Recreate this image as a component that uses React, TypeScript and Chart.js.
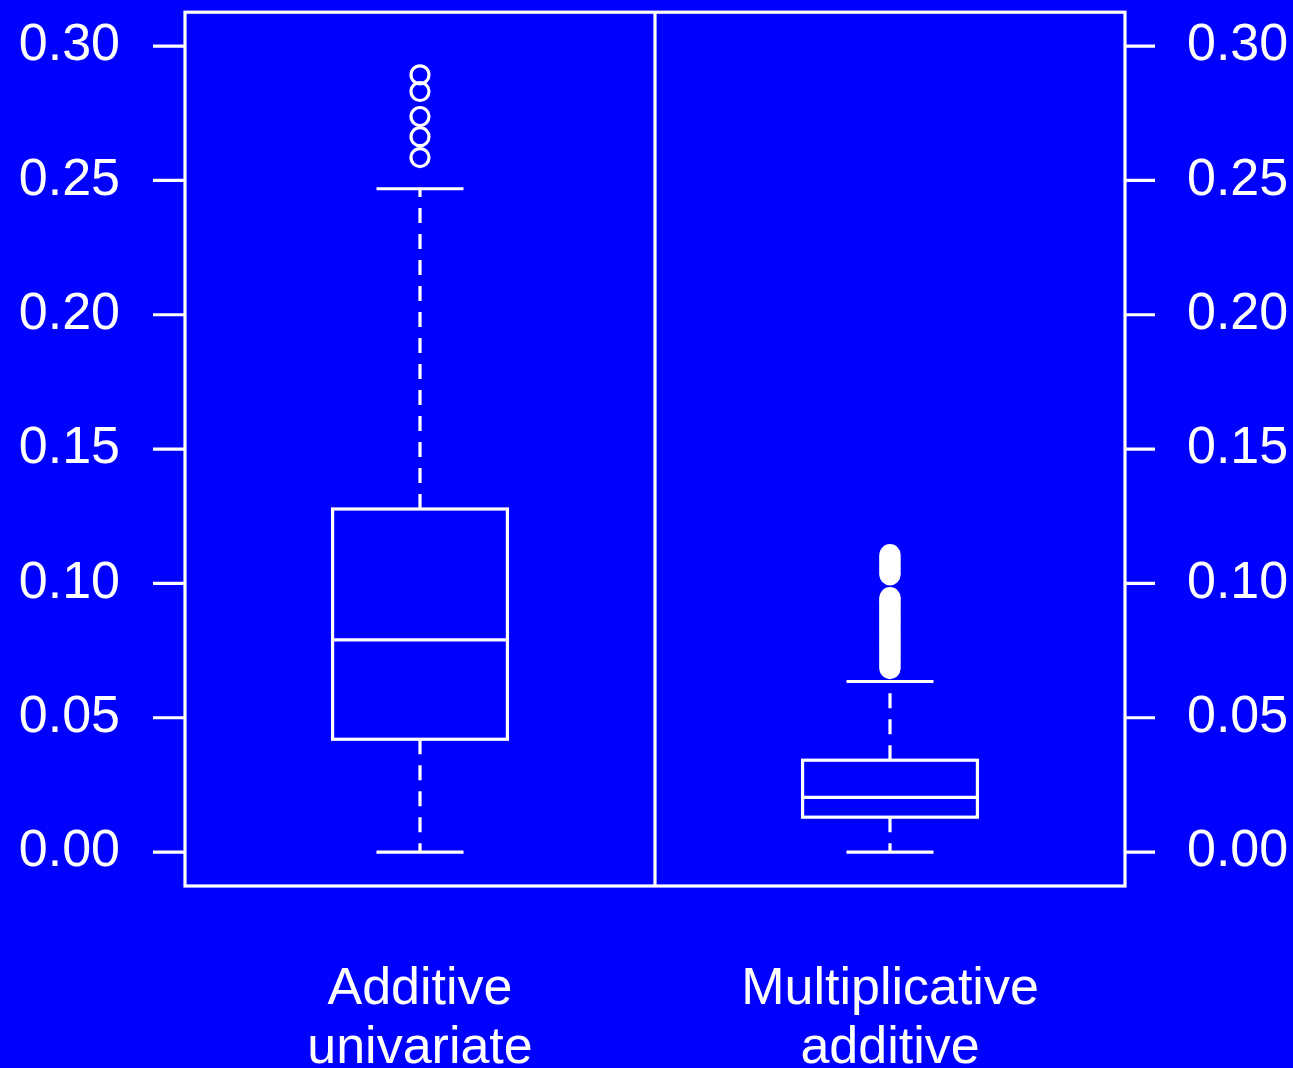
import React, { useEffect, useRef } from "react";
import { Chart, registerables } from "chart.js";

Chart.register(...registerables);

// ---- data ----
const categories: string[][] = [
  ["Additive", "univariate"],
  ["Multiplicative", "additive"],
];
const whiskerLow = [0.0, 0.0];
const q1 = [0.042, 0.013];
const median = [0.079, 0.0204];
const q3 = [0.1277, 0.0342];
const whiskerHigh = [0.2469, 0.0635];
const outliersAdditive = [0.2893, 0.2831, 0.2738, 0.2663, 0.2585];
const outliersMultiplicative = [
  0.0683, 0.0689, 0.0697, 0.0704, 0.0712, 0.0718, 0.0727, 0.0735, 0.0741,
  0.0749, 0.0758, 0.0764, 0.0771, 0.0779, 0.0787, 0.0793, 0.0802, 0.0808,
  0.0817, 0.0823, 0.0832, 0.0838, 0.0846, 0.0854, 0.0861, 0.0869, 0.0875,
  0.0884, 0.0891, 0.0897, 0.0906, 0.0913, 0.0922, 0.0928, 0.0935, 0.0942,
  0.0947, 0.1032, 0.1039, 0.1047, 0.1056, 0.1062, 0.1071, 0.1077, 0.1086,
  0.1093, 0.1099, 0.1107,
];
const yTicks = [0, 0.05, 0.1, 0.15, 0.2, 0.25, 0.3];
const yTickLabels = ["0.00", "0.05", "0.10", "0.15", "0.20", "0.25", "0.30"];

const BG = "#0000FF";
const FG = "#FFFFFF";
const FONT = "52px 'Liberation Sans', 'DejaVu Sans', sans-serif";
const LW = 3.2;

const boxPlugin = {
  id: "rBoxes",
  beforeDraw(chart: any) {
    const ctx = chart.ctx;
    ctx.save();
    ctx.fillStyle = BG;
    ctx.fillRect(0, 0, chart.width, chart.height);
    ctx.restore();
  },
  beforeDatasetsDraw(chart: any) {
    const ctx = chart.ctx;
    const xs = chart.scales.x;
    const ys = chart.scales.y;
    ctx.save();
    ctx.strokeStyle = FG;
    ctx.lineWidth = LW;
    categories.forEach((_, i) => {
      const c = i + 0.5;
      const cx = xs.getPixelForValue(c);
      const bl = xs.getPixelForValue(c - 0.186);
      const br = xs.getPixelForValue(c + 0.186);
      const cl = xs.getPixelForValue(c - 0.0926);
      const cr = xs.getPixelForValue(c + 0.0926);
      const yq1 = ys.getPixelForValue(q1[i]);
      const yq3 = ys.getPixelForValue(q3[i]);
      const ymed = ys.getPixelForValue(median[i]);
      const ylo = ys.getPixelForValue(whiskerLow[i]);
      const yhi = ys.getPixelForValue(whiskerHigh[i]);
      // whiskers dashed
      ctx.setLineDash([15, 11]);
      ctx.beginPath();
      ctx.moveTo(cx, yq3);
      ctx.lineTo(cx, yhi);
      ctx.moveTo(cx, yq1);
      ctx.lineTo(cx, ylo);
      ctx.stroke();
      ctx.setLineDash([]);
      // caps
      ctx.beginPath();
      ctx.moveTo(cl, yhi);
      ctx.lineTo(cr, yhi);
      ctx.moveTo(cl, ylo);
      ctx.lineTo(cr, ylo);
      ctx.stroke();
      // box
      ctx.fillStyle = BG;
      ctx.fillRect(bl, yq3, br - bl, yq1 - yq3);
      ctx.strokeRect(bl, yq3, br - bl, yq1 - yq3);
      ctx.beginPath();
      ctx.moveTo(bl, ymed);
      ctx.lineTo(br, ymed);
      ctx.stroke();
    });
    ctx.restore();
  },
  afterDraw(chart: any) {
    const ctx = chart.ctx;
    const xs = chart.scales.x;
    const ys = chart.scales.y;
    const a = chart.chartArea;
    ctx.save();
    ctx.strokeStyle = FG;
    ctx.fillStyle = FG;
    ctx.lineWidth = LW;
    // frame
    ctx.strokeRect(a.left, a.top, a.right - a.left, a.bottom - a.top);
    // divider
    const dx = xs.getPixelForValue(1);
    ctx.beginPath();
    ctx.moveTo(dx, a.top);
    ctx.lineTo(dx, a.bottom);
    ctx.stroke();
    // ticks
    ctx.font = FONT;
    ctx.textBaseline = "middle";
    yTicks.forEach((v, i) => {
      const y = ys.getPixelForValue(v);
      ctx.beginPath();
      ctx.moveTo(a.left - 32, y);
      ctx.lineTo(a.left, y);
      ctx.moveTo(a.right, y);
      ctx.lineTo(a.right + 30, y);
      ctx.stroke();
      ctx.textAlign = "right";
      ctx.fillText(yTickLabels[i], a.left - 65, y);
      ctx.textAlign = "left";
      ctx.fillText(yTickLabels[i], a.right + 62, y);
    });
    // category labels
    ctx.textAlign = "center";
    ctx.textBaseline = "alphabetic";
    categories.forEach((lines, i) => {
      const cx = xs.getPixelForValue(i + 0.5);
      lines.forEach((t, j) => {
        ctx.fillText(t, cx, a.bottom + 118 + j * 59);
      });
    });
    ctx.restore();
  },
};

export default function App() {
  const ref = useRef<HTMLCanvasElement | null>(null);
  useEffect(() => {
    document.body.style.margin = "0";
    document.body.style.background = BG;
    if (!ref.current) return;
    const chart = new Chart(ref.current, {
      type: "scatter",
      data: {
        datasets: [
          {
            data: outliersAdditive.map((v) => ({ x: 0.5, y: v })),
            pointStyle: "circle",
            pointRadius: 9,
            pointBorderWidth: LW,
            pointBorderColor: FG,
            pointBackgroundColor: "rgba(0,0,0,0)",
          },
          {
            data: outliersMultiplicative.map((v) => ({ x: 1.5, y: v })),
            pointStyle: "circle",
            pointRadius: 9,
            pointBorderWidth: LW,
            pointBorderColor: FG,
            pointBackgroundColor: "rgba(0,0,0,0)",
          },
        ],
      },
      options: {
        responsive: false,
        animation: false,
        layout: { padding: { left: 185, right: 168, top: 10, bottom: 182 } },
        plugins: { legend: { display: false }, tooltip: { enabled: false } },
        scales: {
          x: { type: "linear", min: 0, max: 2, display: false },
          y: { type: "linear", min: -0.01262, max: 0.31262, display: false },
        },
      },
      plugins: [boxPlugin],
    });
    return () => chart.destroy();
  }, []);
  return (
    <div style={{ width: 1293, height: 1068, background: BG }}>
      <canvas ref={ref} width={1293} height={1068} />
    </div>
  );
}
